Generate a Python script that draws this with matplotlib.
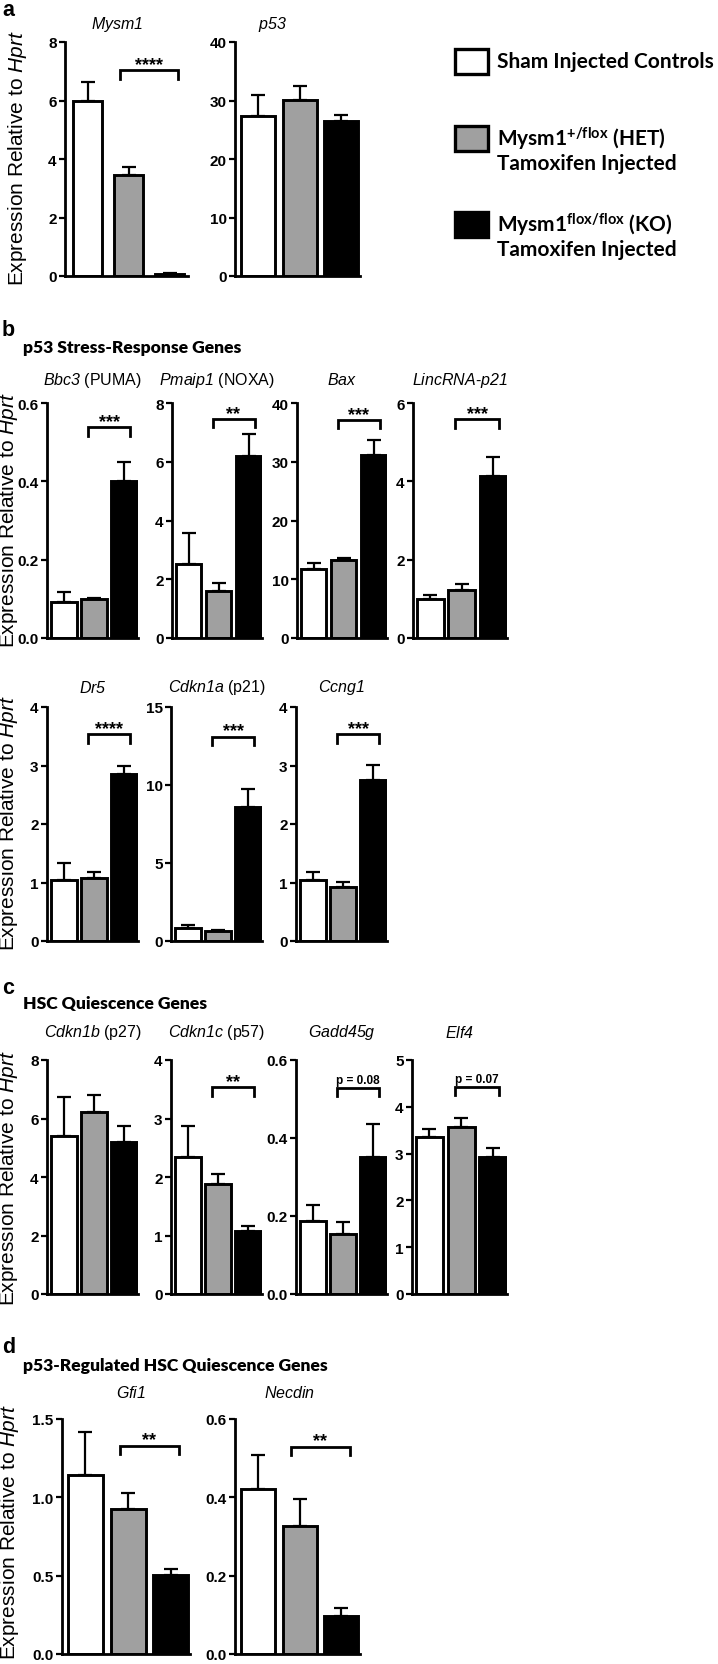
import numpy as np
import matplotlib
matplotlib.use('Agg')
import matplotlib.pyplot as plt
from matplotlib import font_manager as fm
from matplotlib.patches import Rectangle
from matplotlib.ticker import FormatStrFormatter

# ---------------- data ----------------
FILLS = ['white', '#a0a0a0', 'black']

# a
TITLES_A = [r'$\mathsf{Mysm1}$', r'$\mathsf{p53}$']
MEANS_A = [[6.0, 3.47, 0.08], [27.3, 30.1, 26.5]]
SEMS_A = [[0.63, 0.26, 0.02], [3.6, 2.4, 1.1]]
YMAX_A = [8, 40]
YSTEP_A = [2, 10]
SIG_A = ['****', None]
SIG_Y_A = [7.03, None]

# b - p53 stress-response genes (row 1)
TITLES_B1 = [r'$\mathsf{Bbc3}$ (PUMA)', r'$\mathsf{Pmaip1}$ (NOXA)',
             r'$\mathsf{Bax}$', r'$\mathsf{LincRNA}$-$\mathsf{p21}$']
MEANS_B1 = [[0.092, 0.099, 0.402], [2.52, 1.60, 6.19],
            [11.8, 13.2, 31.1], [0.99, 1.22, 4.14]]
SEMS_B1 = [[0.025, 0.004, 0.047], [1.07, 0.27, 0.76],
           [0.9, 0.5, 2.6], [0.10, 0.16, 0.47]]
YMAX_B1 = [0.6, 8, 40, 6]
YSTEP_B1 = [0.2, 2, 10, 2]
SIG_B1 = ['***', '**', '***', '***']
SIG_Y_B1 = [0.538, 7.45, 37.1, 5.58]

# b - row 2
TITLES_B2 = [r'$\mathsf{Dr5}$', r'$\mathsf{Cdkn1a}$ (p21)', r'$\mathsf{Ccng1}$']
MEANS_B2 = [[1.04, 1.07, 2.86], [0.85, 0.64, 8.62], [1.04, 0.93, 2.75]]
SEMS_B2 = [[0.30, 0.11, 0.13], [0.17, 0.06, 1.10], [0.14, 0.08, 0.26]]
YMAX_B2 = [4, 15, 4]
YSTEP_B2 = [1, 5, 1]
SIG_B2 = ['****', '***', '***']
SIG_Y_B2 = [3.53, 13.1, 3.53]

# c - HSC quiescence genes
TITLES_C = [r'$\mathsf{Cdkn1b}$ (p27)', r'$\mathsf{Cdkn1c}$ (p57)',
            r'$\mathsf{Gadd45g}$', r'$\mathsf{Elf4}$']
MEANS_C = [[5.40, 6.23, 5.20], [2.34, 1.88, 1.08],
           [0.187, 0.155, 0.351], [3.36, 3.57, 2.92]]
SEMS_C = [[1.35, 0.56, 0.55], [0.54, 0.17, 0.09],
          [0.042, 0.029, 0.086], [0.16, 0.20, 0.20]]
YMAX_C = [8, 4, 0.6, 5]
YSTEP_C = [2, 1, 0.2, 1]
SIG_C = [None, '**', 'p = 0.08', 'p = 0.07']
SIG_Y_C = [None, 3.53, 0.529, 4.43]

# d - p53-regulated HSC quiescence genes
TITLES_D = [r'$\mathsf{Gfi1}$', r'$\mathsf{Necdin}$']
MEANS_D = [[1.145, 0.925, 0.504], [0.421, 0.326, 0.096]]
SEMS_D = [[0.275, 0.10, 0.04], [0.087, 0.07, 0.021]]
YMAX_D = [1.5, 0.6]
YSTEP_D = [0.5, 0.2]
SIG_D = ['**', '**']
SIG_Y_D = [1.33, 0.529]

# ---------------- fonts ----------------
_names = {f.name for f in fm.fontManager.ttflist}
if 'Liberation Sans Narrow' in _names:
    TITLE_FONT, TITLE_SIZE = 'Liberation Sans Narrow', 13.5
else:
    TITLE_FONT, TITLE_SIZE = 'Liberation Sans', 11.5

plt.rcParams['font.family'] = 'Liberation Sans'
plt.rcParams['mathtext.fontset'] = 'custom'
plt.rcParams['mathtext.rm'] = 'Liberation Sans'
plt.rcParams['mathtext.it'] = 'Liberation Sans:italic'
plt.rcParams['mathtext.sf'] = TITLE_FONT + ':italic'
plt.rcParams['mathtext.bf'] = 'Lato:bold'

W, H = 718, 1665
fig = plt.figure(figsize=(W / 100, H / 100), dpi=100)


def px_axes(x0, x1, y0, y1):
    return fig.add_axes([x0 / W, 1 - y1 / H, (x1 - x0) / W, (y1 - y0) / H])


def ftext(x, y, s, **kw):
    return fig.text(x / W, 1 - y / H, s, **kw)


def draw_bars(ax, means, sems, ymax, step, sig, sig_y, width=0.85):
    x = np.arange(3)
    ax.bar(x, means, width=width, color=FILLS, edgecolor='black',
           linewidth=2.1, zorder=2)
    ax.errorbar(x, means, yerr=[np.zeros(3), sems], fmt='none', ecolor='black',
                elinewidth=1.6, capsize=5, capthick=1.6, zorder=1)
    ax.set_xlim(-0.55, 2.45)
    ax.set_ylim(0, ymax)
    ax.set_xticks([])
    ax.set_yticks(np.arange(0, ymax + step / 2, step))
    ax.yaxis.set_major_formatter(FormatStrFormatter('%.1f' if step < 1 else '%d'))
    ax.tick_params(axis='y', direction='out', length=4, width=1.6,
                   labelsize=11, pad=2)
    for lab in ax.get_yticklabels():
        lab.set_fontweight('bold')
    for side in ['top', 'right']:
        ax.spines[side].set_visible(False)
    for side in ['left', 'bottom']:
        ax.spines[side].set_linewidth(2.0)
    ax.patch.set_alpha(0)

    if sig is not None:
        h = ymax * 0.035
        ax.plot([0.8, 0.8, 2.2, 2.2], [sig_y - h, sig_y, sig_y, sig_y - h],
                color='black', lw=2.0, clip_on=False, solid_joinstyle='miter')
        is_p = sig.startswith('p')
        ax.annotate(sig, (1.5, sig_y), xytext=(0, 1 if is_p else -2),
                    textcoords='offset points', ha='center', va='bottom',
                    fontsize=8.5 if is_p else 13, fontweight='bold')


def draw_row(boxes, y0, y1, titles, means, sems, ymaxs, steps, sigs, sig_ys,
             title_y, widths=None, shifts=None):
    for i, (x0, x1) in enumerate(boxes):
        ax = px_axes(x0, x1, y0, y1)
        w = widths[i] if widths else 0.85
        draw_bars(ax, means[i], sems[i], ymaxs[i], steps[i], sigs[i], sig_ys[i], w)
        dx = shifts[i] if shifts else 0
        ftext((x0 + x1) / 2 + dx, title_y, titles[i], ha='center', va='center',
              family=TITLE_FONT, fontsize=TITLE_SIZE)


YLABEL = r'Expression Relative to $\mathit{Hprt}$'


def ylabel(x, y):
    ftext(x, y, YLABEL, rotation=90, ha='center', va='center', fontsize=15)


def section(letter, y_letter, title, y_title):
    ftext(2, y_letter, letter, ha='left', va='center', fontsize=15.5,
          fontweight='bold')
    if title:
        ftext(23, y_title, title, ha='left', va='center', family='Lato',
              fontweight='heavy', fontsize=12.6)


# ---- a ----
section('a', 11, None, None)
draw_row([(65, 188), (235, 360)], 43, 277, TITLES_A, MEANS_A, SEMS_A,
         YMAX_A, YSTEP_A, SIG_A, SIG_Y_A, 25, widths=[0.72, 0.82],
         shifts=[-9, -25])
ylabel(18, 158)

# legend
LEG_BOXES = [(455, 50), (455, 127), (455, 213)]
LEG_TEXT = [['Sham Injected Controls'],
            [r'Mysm1$^{\mathbf{+/flox}}$ (HET)', 'Tamoxifen Injected'],
            [r'Mysm1$^{\mathbf{flox/flox}}$ (KO)', 'Tamoxifen Injected']]
for (bx, by), lines, fc in zip(LEG_BOXES, LEG_TEXT, FILLS):
    fig.patches.append(Rectangle((bx / W, 1 - (by + 25) / H), 33 / W, 25 / H,
                                 transform=fig.transFigure, facecolor=fc,
                                 edgecolor='black', linewidth=2.4))
    for k, line in enumerate(lines):
        ftext(497, by + 12 + 25 * k, line, ha='left', va='center',
              family='Lato', fontweight='bold', fontsize=15)

# ---- b ----
section('b', 331, 'p53 Stress-Response Genes', 348)
draw_row([(47, 138), (172, 262), (297, 387), (413, 507)], 404, 639, TITLES_B1,
         MEANS_B1, SEMS_B1, YMAX_B1, YSTEP_B1, SIG_B1, SIG_Y_B1, 380)
ylabel(9, 520)
draw_row([(47, 138), (171, 262), (296, 387)], 708, 942, TITLES_B2,
         MEANS_B2, SEMS_B2, YMAX_B2, YSTEP_B2, SIG_B2, SIG_Y_B2, 688)
ylabel(9, 823)

# ---- c ----
section('c', 989, 'HSC Quiescence Genes', 1004)
draw_row([(47, 138), (171, 262), (296, 387), (412, 507)], 1061, 1295, TITLES_C,
         MEANS_C, SEMS_C, YMAX_C, YSTEP_C, SIG_C, SIG_Y_C, 1033)
ylabel(9, 1178)

# ---- d ----
section('d', 1348, 'p53-Regulated HSC Quiescence Genes', 1366)
draw_row([(62, 190), (235, 360)], 1420, 1655, TITLES_D, MEANS_D, SEMS_D,
         YMAX_D, YSTEP_D, SIG_D, SIG_Y_D, 1393, widths=[0.82, 0.82],
         shifts=[5, -8])
ylabel(10, 1532)

fig.savefig('out.png', dpi=100)
